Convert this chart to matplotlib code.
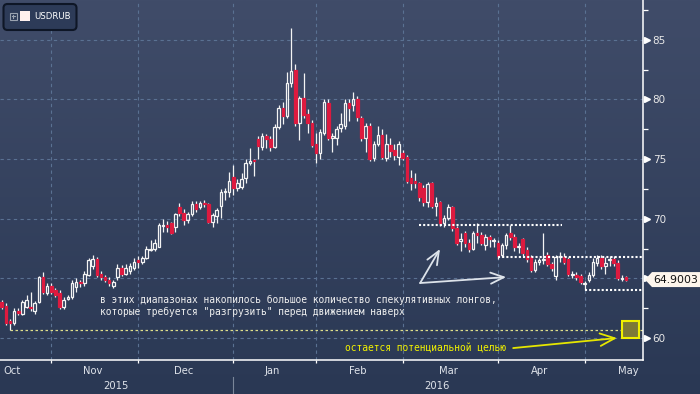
import numpy as np
import pandas as pd
import matplotlib
matplotlib.use("Agg")
import matplotlib.pyplot as plt
from matplotlib.patches import Rectangle, FancyBboxPatch, Polygon
from matplotlib.ticker import MultipleLocator
from matplotlib.transforms import ScaledTranslation

W, H = 700, 394

# USDRUB daily candles, 15 Oct 2015 - 16 May 2016 (weekdays, 1 Jan skipped)
opens = [63.0, 62.7, 61.4, 61.3, 62.3, 62.0, 62.6, 62.6, 62.3, 63.0, 65.1, 63.8,
         64.4, 64.0, 63.8, 62.6, 63.3, 63.4, 64.3, 64.7, 64.6, 65.3, 66.0, 66.6,
         65.4, 65.1, 64.9, 64.4, 65.1, 65.9, 65.4, 65.6, 65.9,
         66.5, 66.4, 66.7, 67.4, 67.5, 67.6, 69.4, 69.5, 69.6, 69.3, 71.0, 70.5,
         69.9, 70.4, 71.2, 71.0, 71.3, 71.2, 69.7, 70.2, 71.1, 72.2, 72.2,
         73.5, 72.6, 72.7, 73.4, 74.7, 74.9, 76.7, 76.0, 76.9, 76.7, 76.0, 77.7,
         79.3, 78.6, 81.4, 82.5, 78.0, 80.1, 78.8, 78.0,
         76.3, 75.5, 77.2, 79.7, 76.8, 76.8, 77.6, 77.8, 79.7, 79.5, 80.0, 78.4,
         76.8, 77.8, 75.1, 76.3, 77.0, 75.1, 76.2, 75.8, 75.2,
         75.5, 75.2, 73.4, 73.2, 73.0, 72.6, 71.4, 73.0, 71.1, 71.4, 69.6, 70.1,
         71.0, 69.2, 68.1, 68.8, 68.0, 67.5, 68.8, 68.6, 67.8, 68.5, 68.1,
         68.0, 67.0, 67.8, 68.8, 68.5, 67.6, 68.3, 67.4, 66.8, 65.7, 66.4, 66.5,
         67.0, 66.2, 65.2, 66.8, 66.8, 66.6, 65.3, 65.3, 65.2,
         64.5, 64.9, 65.3, 66.3, 66.7, 66.0, 66.5, 66.6, 66.3, 64.95, 65.1]
highs = [63.2, 62.9, 61.6, 62.5, 62.5, 63.2, 63.6, 63.9, 63.1, 65.2, 65.5, 64.6,
         64.6, 64.2, 64.0, 63.4, 63.6, 64.9, 65.0, 64.9, 65.6, 66.7, 67.0, 66.8,
         65.6, 65.3, 65.1, 64.9, 66.2, 66.1, 66.2, 66.3, 66.7,
         66.9, 66.9, 67.7, 68.2, 68.3, 69.6, 70.0, 69.8, 69.7, 70.5, 71.3, 70.8,
         70.6, 71.5, 71.5, 71.5, 71.6, 71.3, 70.5, 70.9, 72.5, 72.6, 73.9,
         74.5, 73.3, 73.8, 75.0, 75.9, 75.0, 76.9, 77.2, 77.1, 76.9, 77.9, 79.5,
         79.8, 82.3, 86.0, 83.0, 80.3, 82.2, 79.2, 78.3,
         77.2, 77.5, 80.0, 80.0, 77.2, 77.8, 78.9, 80.0, 80.0, 80.6, 80.3, 78.6,
         78.0, 78.0, 76.5, 77.8, 77.5, 77.1, 76.8, 76.3, 76.5,
         75.8, 75.3, 74.1, 73.8, 73.1, 72.8, 73.1, 73.1, 71.8, 71.5, 70.3, 71.2,
         71.1, 69.4, 68.8, 69.0, 68.3, 69.0, 69.6, 68.9, 68.7, 68.6, 68.4,
         68.2, 68.0, 68.8, 69.5, 68.7, 68.0, 68.4, 67.6, 67.0, 66.6, 66.7, 68.8,
         67.2, 66.4, 67.0, 67.2, 67.1, 66.8, 65.6, 65.5, 65.4,
         64.8, 65.5, 66.7, 67.0, 67.0, 66.8, 66.9, 66.9, 66.5, 65.3, 65.2]
lows = [62.4, 61.1, 60.7, 61.1, 61.9, 61.9, 62.5, 62.3, 62.0, 62.9, 63.7, 63.6,
        63.7, 63.4, 62.4, 62.4, 63.2, 63.3, 63.9, 64.3, 64.4, 65.2, 65.8, 65.1,
        64.9, 64.7, 64.4, 64.2, 64.9, 65.2, 65.3, 65.4, 65.7,
        65.9, 66.2, 66.6, 67.3, 67.3, 67.6, 68.9, 68.9, 68.7, 68.9, 70.2, 69.5,
        69.6, 70.2, 70.6, 70.8, 71.0, 69.6, 69.3, 69.6, 70.1, 71.6, 71.8,
        72.0, 72.3, 72.5, 73.0, 74.5, 73.6, 75.0, 75.8, 75.9, 75.7, 75.9, 77.5,
        77.9, 78.4, 81.0, 77.8, 76.6, 78.4, 77.2, 76.0,
        74.7, 75.0, 77.0, 76.6, 75.6, 76.2, 77.3, 77.5, 78.2, 79.0, 78.2, 76.5,
        75.6, 74.8, 74.8, 76.1, 75.0, 74.8, 75.2, 74.9, 74.5,
        74.9, 73.0, 72.4, 72.6, 71.5, 71.1, 71.0, 70.9, 70.2, 69.4, 69.3, 69.9,
        69.0, 67.8, 67.3, 67.6, 67.2, 67.4, 68.0, 67.8, 67.4, 67.6, 67.6,
        66.6, 66.8, 67.5, 68.2, 67.3, 67.1, 66.9, 66.4, 65.5, 65.5, 66.1, 66.2,
        66.0, 65.6, 64.9, 66.4, 66.2, 65.2, 65.0, 64.9, 64.5,
        64.0, 64.7, 65.1, 66.0, 65.8, 65.4, 66.0, 66.0, 64.9, 64.8, 64.8]
closes = [62.6, 61.3, 61.3, 62.3, 62.1, 63.0, 63.2, 62.5, 62.9, 65.1, 63.9, 64.4,
          63.9, 63.6, 62.6, 63.2, 63.4, 64.6, 64.7, 64.6, 65.4, 66.5, 66.6, 65.3,
          65.1, 64.9, 64.6, 64.7, 65.9, 65.4, 65.9, 66.0, 66.4,
          66.4, 66.7, 67.5, 67.5, 68.0, 69.5, 69.5, 69.3, 68.8, 70.4, 70.5, 69.9,
          70.4, 71.2, 70.8, 71.3, 71.2, 69.7, 70.3, 70.7, 72.2, 72.3, 73.2,
          72.6, 73.0, 73.3, 74.7, 74.8, 74.8, 76.1, 76.9, 76.7, 76.0, 77.7, 79.3,
          78.6, 81.4, 82.4, 78.0, 80.1, 78.7, 78.0, 76.2,
          75.5, 77.3, 79.8, 76.8, 76.9, 77.5, 77.9, 79.7, 79.3, 80.0, 78.5, 76.8,
          77.8, 75.0, 76.3, 77.0, 75.2, 76.3, 75.7, 75.3, 76.3,
          75.1, 73.2, 73.0, 73.0, 71.8, 71.4, 72.9, 71.1, 71.3, 69.6, 70.1, 71.0,
          69.2, 68.0, 68.3, 68.0, 67.5, 68.8, 68.6, 68.0, 68.5, 68.3, 68.2,
          66.9, 67.8, 68.6, 68.5, 67.6, 67.7, 67.1, 66.6, 65.7, 66.4, 66.5, 66.6,
          66.2, 65.9, 66.8, 66.9, 66.4, 65.4, 65.4, 65.1, 64.7,
          64.6, 65.3, 66.4, 66.7, 66.0, 66.3, 66.6, 66.3, 65.0, 65.05, 64.9003]

dates = pd.bdate_range("2015-10-15", "2016-05-16")
dates = dates[dates != pd.Timestamp("2016-01-01")]

# dotted range levels drawn on the chart
level_starts = ["2016-03-07", "2016-04-01", "2016-05-02"]
level_ends = ["2016-04-22", None, None]
level_values = [69.47, 66.8, 64.0]
target_start = "2015-10-19"
target_value = 60.67

month_names = ["Oct", "Nov", "Dec", "Jan", "Feb", "Mar", "Apr", "May"]
year_names = ["2015", "2016"]

note_lines = ["в этих диапазонах накопилось большое количество спекулятивных лонгов,",
              "которые требуется \"разгрузить\" перед движением наверх"]
target_note = "остается потенциальной целью"

x = np.arange(len(dates))
o, h, l, c = map(np.array, (opens, highs, lows, closes))
up = c >= o
lo_b = np.minimum(o, c)
hi_b = np.maximum(o, c)

fig = plt.figure(figsize=(W / 100, H / 100), dpi=100)

# background gradient over whole figure
bg = fig.add_axes([0, 0, 1, 1], zorder=-2)
top = np.array([0x40, 0x4c, 0x69]) / 255
bot = np.array([0x2a, 0x38, 0x54]) / 255
t = np.linspace(0, 1, 256)[:, None]
grad = top + (bot - top) * t
bg.imshow(grad[:, None, :], aspect="auto", extent=[0, 1, 0, 1])
bg.axis("off")

ax = fig.add_axes([0, 34 / H, 643 / W, 360 / H])
ax.set_facecolor("none")
xmin, xmax = -0.41, 155.1
ax.set_xlim(xmin, xmax)
ax.set_ylim(58.16, 88.33)

# grid
month_starts = [i for i in range(1, len(dates)) if dates[i].month != dates[i - 1].month]
grid_kw = dict(color="#5a7192", lw=0.8, ls=(0, (3, 3)), zorder=1)
for i in month_starts:
    ax.axvline(i, **grid_kw)
yt = list(range(60, 90, 5))
for v in yt:
    ax.axhline(v, **grid_kw)

# candles
wick = "#f4f4f4"
red = "#dd1a3f"
ax.vlines(x, l, lo_b, color=wick, lw=0.9, zorder=3)
ax.vlines(x, hi_b, h, color=wick, lw=0.9, zorder=3)
ax.bar(x[up], (hi_b - lo_b)[up], bottom=lo_b[up], width=0.62,
       facecolor="none", edgecolor=wick, lw=0.9, zorder=3)
ax.bar(x[~up], (hi_b - lo_b)[~up], bottom=lo_b[~up], width=0.62,
       color=red, edgecolor=red, lw=0.9, zorder=3)

# axes styling
ax.yaxis.tick_right()
ax.set_yticks(yt)
# the 65 label sits under the last-price callout
ax.set_yticklabels(["" if v == 65 else str(v) for v in yt])
ax.yaxis.set_minor_locator(MultipleLocator(2.5))
ax.tick_params(axis="y", which="major", length=0, pad=7, labelsize=7.5,
               labelcolor="#e8e8e8")
ax.tick_params(axis="y", which="minor", length=3.5, width=0.9, color="white")
ax.set_xticks(month_starts)
ax.set_xticklabels([])
ax.tick_params(axis="x", length=2.5, width=0.9, color="white")
for s in ("top", "left"):
    ax.spines[s].set_visible(False)
for s in ("right", "bottom"):
    ax.spines[s].set_color("white")
    ax.spines[s].set_linewidth(1.1)

tri = ax.get_yaxis_transform() + ScaledTranslation(0.04, 0, fig.dpi_scale_trans)
ax.plot(np.ones(len(yt)), yt, ls="none", marker=">", ms=5, color="white",
        transform=tri, clip_on=False, zorder=4)

# month / year labels
full = pd.bdate_range("2015-10-01", "2016-05-31")
full = full[full != pd.Timestamp("2016-01-01")]
off = full.get_loc(dates[0])
per = full.to_period("M")
tx = ax.get_xaxis_transform()
for p, name in zip(pd.period_range("2015-10", "2016-05", freq="M"), month_names):
    idx = np.where(per == p)[0] - off
    cx = max((idx[0] + idx[-1]) / 2, xmin + 2.9)
    ax.text(cx, -0.031, name, transform=tx, ha="center", va="center",
            fontsize=8, color="#dfe3ea", fontstretch="condensed", clip_on=False)
jan = month_starts[2]
for cx, name in zip([(xmin + jan - 0.5) / 2, (jan - 0.5 + xmax) / 2], year_names):
    ax.text(cx, -0.073, name, transform=tx, ha="center", va="center",
            fontsize=8, color="#dfe3ea", fontstretch="condensed", clip_on=False)
ax.plot([jan, jan], [-0.048, -0.1], transform=tx, color="#7a8699", lw=0.8,
        clip_on=False)

# range levels
for s, e, v in zip(level_starts, level_ends, level_values):
    x0 = dates.get_loc(pd.Timestamp(s))
    x1 = dates.get_loc(pd.Timestamp(e)) + 0.5 if e else xmax
    ax.hlines(v, x0, x1, colors="white", lw=1.5, linestyles=(0, (1, 1)), zorder=4)
ax.hlines(target_value, dates.get_loc(pd.Timestamp(target_start)), xmax,
          colors="#dede8a", lw=0.9, linestyles=(0, (2, 2)), zorder=2)

# notes
mono = "DejaVu Sans Mono"
ax.text(23.8, 63.19, note_lines[0], fontsize=6.9, family=mono, color="#f0f0f0",
        va="center", zorder=5)
ax.text(23.8, 62.18, note_lines[1], fontsize=6.9, family=mono, color="#f0f0f0",
        va="center", zorder=5)
arr_w = dict(arrowstyle="->,head_length=0.95,head_width=0.4", color="#dde3ea",
             lw=1.3, shrinkA=0, shrinkB=0)
ax.annotate("", xy=(106.0, 67.46), xytext=(101.2, 64.61), arrowprops=arr_w, zorder=5)
ax.annotate("", xy=(122.0, 65.11), xytext=(101.2, 64.61), arrowprops=arr_w, zorder=5)

ax.text(102.4, 59.16, target_note, fontsize=6.9, family=mono, color="#f2f200",
        ha="center", va="center", zorder=5)
ax.annotate("", xy=(148.8, 60.0), xytext=(123.7, 59.16), zorder=5,
            arrowprops=dict(arrowstyle="->,head_length=1.05,head_width=0.45",
                            color="#e6e600", lw=1.3, shrinkA=0, shrinkB=0))
ax.add_patch(Rectangle((150.0, 60.0), 4.1, 1.42, facecolor="#7d7a37",
                       edgecolor="#f0f000", lw=1.5, zorder=5))

# overlay in pixel coordinates: legend box and last-price callout
ov = fig.add_axes([0, 0, 1, 1], zorder=5)
ov.set_xlim(0, W)
ov.set_ylim(H, 0)
ov.axis("off")
ov.add_patch(FancyBboxPatch((3.5, 4), 73, 26, boxstyle="round,pad=0,rounding_size=4",
                            facecolor="#2d3b58", edgecolor="#0e1626", lw=1.5))
ov.add_patch(Rectangle((10, 13), 6.5, 6.5, facecolor="none", edgecolor="#9aa3b0", lw=0.8))
ov.plot([11.5, 15], [16.25, 16.25], color="#9aa3b0", lw=0.8)
ov.plot([13.25, 13.25], [14.5, 18], color="#9aa3b0", lw=0.8)
ov.add_patch(Rectangle((20, 11), 9.5, 10, facecolor="#fff0ee", edgecolor="none"))
ov.text(34, 16.8, "USDRUB", fontsize=6.8, color="white", va="center",
        fontstretch="condensed")

yp = H - ax.transData.transform((0, c[-1]))[1]
ov.add_patch(Polygon([(645, yp), (652, yp - 7.5), (700, yp - 7.5), (700, yp + 7.5),
                      (652, yp + 7.5)], closed=True, facecolor="#fdf5ec",
                     edgecolor="none"))
ov.text(675.5, yp + 0.3, f"{c[-1]:.4f}", fontsize=7.8, color="#111111",
        ha="center", va="center")

fig.savefig("out.png", dpi=100)
